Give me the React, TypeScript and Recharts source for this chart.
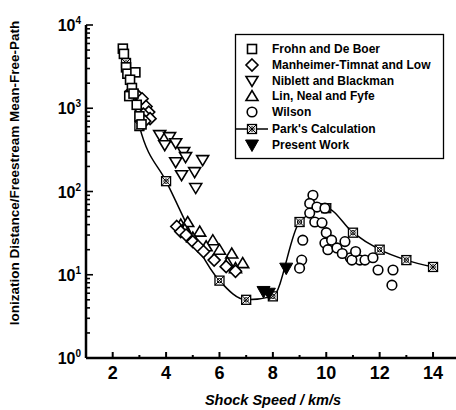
import React from 'react';
import { ScatterChart, Scatter, XAxis, YAxis } from 'recharts';

// shock speed (km/s), ionization distance / mean-free-path
const frohn = [
  [2.38, 5200], [2.42, 4500], [2.5, 3100], [2.55, 2600], [2.85, 2700], [2.65, 2200],
  [2.72, 1750], [2.62, 1400], [2.9, 1100], [3.0, 800], [3.08, 640], [2.78, 1500],
];
const manheimer = [
  [2.7, 1600], [2.95, 1400], [3.1, 1300], [3.0, 1000], [3.25, 1050], [3.35, 900],
  [3.15, 850], [3.4, 750], [3.2, 700], [4.4, 38], [4.55, 33], [4.75, 30], [5.0, 25],
  [5.2, 22], [5.4, 19], [5.8, 15], [6.25, 12.5], [6.6, 11],
];
const niblett = [
  [3.76, 475], [4.13, 450], [3.95, 360], [4.36, 380], [4.66, 297], [4.73, 259],
  [4.36, 225], [5.37, 238], [4.58, 157], [5.07, 171], [5.11, 110],
];
const lin = [
  [4.55, 40], [4.81, 43], [4.7, 35], [5.26, 33], [5.0, 28], [5.75, 26], [5.5, 22],
  [6.0, 20], [6.46, 18], [6.3, 14], [6.87, 13.8], [6.6, 12],
];
const wilson = [
  [9.5, 90], [9.38, 72], [9.65, 65], [9.95, 63], [9.38, 55], [9.57, 43], [9.84, 42],
  [10.0, 32], [9.95, 24], [10.2, 26], [10.06, 20], [10.4, 21], [10.7, 25], [10.9, 16],
  [11.26, 15], [9.12, 26], [9.08, 15], [9.0, 12], [10.96, 15], [11.45, 15], [11.75, 16],
  [11.94, 11.4], [12.5, 11.4], [12.46, 7.5], [10.6, 18], [11.1, 19],
];
const park = [
  [2.5, 3500], [3.0, 610], [4.0, 133], [6.0, 8.5], [7.0, 5.0], [8.0, 5.5], [9.0, 43],
  [10.0, 63], [11.0, 32], [12.0, 20], [13.0, 15], [14.0, 12.4],
];
const present = [[7.65, 6.3], [7.85, 6.0], [8.5, 12]];

const xTicks = [2, 3, 4, 5, 6, 7, 8, 9, 10, 11, 12, 13, 14];
const yTicks = [1, 2, 3, 4, 5, 6, 7, 8, 9, 10, 20, 30, 40, 50, 60, 70, 80, 90,
  100, 200, 300, 400, 500, 600, 700, 800, 900, 1000, 2000, 3000, 4000, 5000, 6000,
  7000, 8000, 9000, 10000];

const legendItems = [
  'Frohn and De Boer',
  'Manheimer-Timnat and Low',
  'Niblett and Blackman',
  'Lin, Neal and Fyfe',
  'Wilson',
  "Park's Calculation",
  'Present Work',
];

const toPts = (arr: number[][]) => arr.map(([x, y]) => ({ x, y }));
const font = '"Liberation Sans", Arial, sans-serif';
const sw = 1.6;

const Square = ({ cx, cy }: any) => (
  <rect x={cx - 4.5} y={cy - 4.5} width={9} height={9} fill="#fff" stroke="#000" strokeWidth={sw} />
);
const Diamond = ({ cx, cy }: any) => (
  <polygon points={`${cx},${cy - 6} ${cx + 6},${cy} ${cx},${cy + 6} ${cx - 6},${cy}`} fill="#fff" stroke="#000" strokeWidth={sw} />
);
const DownTri = ({ cx, cy }: any) => (
  <polygon points={`${cx - 6},${cy - 4.5} ${cx + 6},${cy - 4.5} ${cx},${cy + 5.5}`} fill="#fff" stroke="#000" strokeWidth={sw} />
);
const UpTri = ({ cx, cy }: any) => (
  <polygon points={`${cx - 6},${cy + 4.5} ${cx + 6},${cy + 4.5} ${cx},${cy - 5.5}`} fill="#fff" stroke="#000" strokeWidth={sw} />
);
const Circ = ({ cx, cy }: any) => (
  <circle cx={cx} cy={cy} r={4.8} fill="#fff" stroke="#000" strokeWidth={sw} />
);
const CrossSq = ({ cx, cy }: any) => (
  <g stroke="#000" strokeWidth={1} fill="#fff">
    <rect x={cx - 4.5} y={cy - 4.5} width={9} height={9} strokeWidth={1.3} />
    <line x1={cx - 4.5} y1={cy - 4.5} x2={cx + 4.5} y2={cy + 4.5} />
    <line x1={cx + 4.5} y1={cy - 4.5} x2={cx - 4.5} y2={cy + 4.5} />
    <circle cx={cx} cy={cy} r={2.2} fill="none" />
  </g>
);
const FilledTri = ({ cx, cy }: any) => (
  <polygon points={`${cx - 6.5},${cy - 5} ${cx + 6.5},${cy - 5} ${cx},${cy + 6.5}`} fill="#000" stroke="#000" strokeWidth={1} />
);

const XTick = ({ x, y, payload }: any) => {
  const major = payload.value % 2 === 0;
  return (
    <g>
      <line x1={x} y1={y} x2={x} y2={y - (major ? 6 : 3)} stroke="#000" strokeWidth={2} />
      {major && (
        <text x={x} y={y + 21} textAnchor="middle" fontSize={18} fontWeight="bold" fontFamily={font} fill="#000">
          {payload.value}
        </text>
      )}
    </g>
  );
};

const YTick = ({ x, y, payload }: any) => {
  const v = payload.value;
  const exp = Math.round(Math.log10(v));
  const major = Math.abs(Math.log10(v) - exp) < 1e-6;
  return (
    <g>
      <line x1={x} y1={y} x2={x + (major ? 7 : 4)} y2={y} stroke="#000" strokeWidth={1.6} />
      {major && (
        <text x={x - 5} y={y + 6} textAnchor="end" fontSize={16} fontWeight="bold" fontFamily={font} fill="#000">
          10<tspan dy={-7} fontSize={10}>{exp}</tspan>
        </text>
      )}
    </g>
  );
};

const legendShapes = [Square, Diamond, DownTri, UpTri, Circ, CrossSq, FilledTri];

export default function App() {
  return (
    <div style={{ position: 'absolute', left: 0, top: 0, width: 456, height: 410, background: '#fff' }}>
      <ScatterChart width={456} height={410} margin={{ top: 25, right: 0, bottom: 22, left: 6 }}>
        <XAxis
          type="number"
          dataKey="x"
          domain={[1, 14.86]}
          ticks={xTicks}
          interval={0}
          height={30}
          tickSize={0}
          tickMargin={0}
          tickLine={false}
          axisLine={{ stroke: '#000', strokeWidth: 2.5 }}
          tick={<XTick />}
          allowDataOverflow
        />
        <YAxis
          type="number"
          dataKey="y"
          scale="log"
          domain={[1, 10000]}
          ticks={yTicks}
          interval={0}
          width={80}
          tickSize={0}
          tickMargin={0}
          tickLine={false}
          axisLine={{ stroke: '#000', strokeWidth: 2.5 }}
          tick={<YTick />}
          allowDataOverflow
        />
        <Scatter data={toPts(park)} shape={<CrossSq />} line={{ stroke: '#000', strokeWidth: 1.5 }} lineJointType="monotoneX" isAnimationActive={false} />
        <Scatter data={toPts(niblett)} shape={<DownTri />} isAnimationActive={false} />
        <Scatter data={toPts(lin)} shape={<UpTri />} isAnimationActive={false} />
        <Scatter data={toPts(manheimer)} shape={<Diamond />} isAnimationActive={false} />
        <Scatter data={toPts(frohn)} shape={<Square />} isAnimationActive={false} />
        <Scatter data={toPts(wilson)} shape={<Circ />} isAnimationActive={false} />
        <Scatter data={toPts(present)} shape={<FilledTri />} isAnimationActive={false} />
      </ScatterChart>

      <svg width={456} height={410} style={{ position: 'absolute', left: 0, top: 0, pointerEvents: 'none' }}>
        <text
          transform="translate(19,173) rotate(-90)"
          textAnchor="middle"
          fontSize={13.5}
          fontWeight="bold"
          fontFamily={font}
          fill="#000"
        >
          Ionization Distance/Freestream Mean-Free-Path
        </text>
        <text x={273} y={405} textAnchor="middle" fontSize={14.5} fontWeight="bold" fontStyle="italic" fontFamily={font} fill="#000">
          Shock Speed  / km/s
        </text>
        <rect x={235.5} y={34.5} width={208} height={124} fill="#fff" stroke="#000" strokeWidth={1.3} />
        {legendItems.map((name, i) => {
          const cy = [49, 65, 81, 96, 112, 129, 145][i];
          const Shape = legendShapes[i];
          return (
            <g key={name}>
              {i === 5 && <line x1={236} y1={cy} x2={268} y2={cy} stroke="#000" strokeWidth={1.5} />}
              <Shape cx={252} cy={cy} />
              <text x={272} y={cy + 4} fontSize={12} fontWeight="bold" fontFamily={font} fill="#000">
                {name}
              </text>
            </g>
          );
        })}
      </svg>
    </div>
  );
}
